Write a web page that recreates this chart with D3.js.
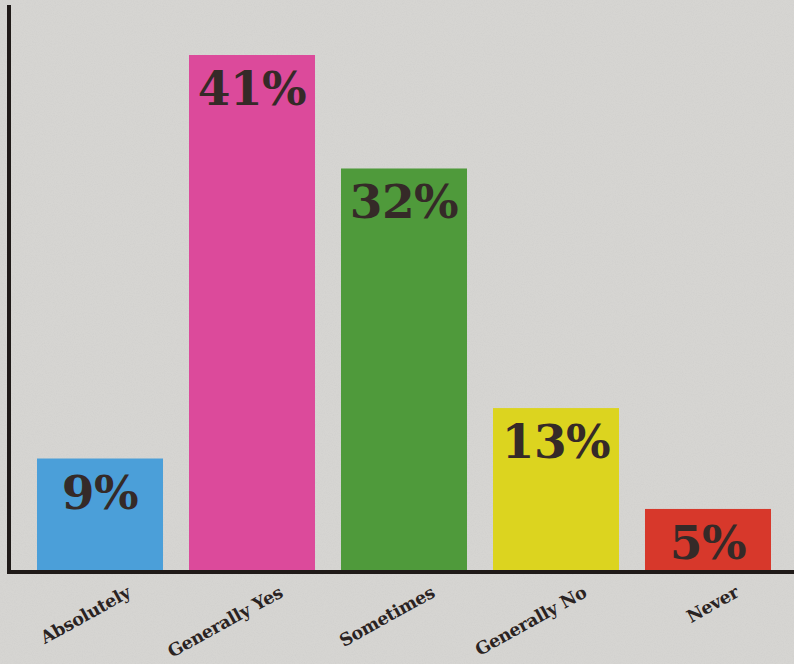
<!DOCTYPE html>
<html>
<head>
<meta charset="utf-8">
<script src="https://cdn.jsdelivr.net/npm/d3@7"></script>
<style>
  html, body { margin: 0; padding: 0; background: #d6d5d2; }
  svg { display: block; }
</style>
</head>
<body>
<svg id="chart"></svg>
<script>
const width = 794;
const height = 664;
const baseline = 572;

// values
const categories = ["Absolutely", "Generally Yes", "Sometimes", "Generally No", "Never"];
const values = [9, 41, 32, 13, 5];
const colors = ["#4b9fd9", "#dc4a9b", "#4f9a3b", "#dcd41f", "#d7382b"];

const svg = d3.select("#chart").attr("width", width).attr("height", height);

// paper-ish texture
const defs = svg.append("defs");
const f = defs.append("filter").attr("id", "paper").attr("x", 0).attr("y", 0).attr("width", "100%").attr("height", "100%");
f.append("feTurbulence").attr("type", "fractalNoise").attr("baseFrequency", 0.9).attr("numOctaves", 2).attr("seed", 3).attr("result", "n");
f.append("feColorMatrix").attr("in", "n").attr("type", "matrix")
  .attr("values", "0 0 0 0 0.5  0 0 0 0 0.5  0 0 0 0 0.5  0 0 0 -0.9 0.55");

svg.append("rect").attr("width", width).attr("height", height).attr("fill", "#d6d5d2");
svg.append("rect").attr("width", width).attr("height", height).attr("filter", "url(#paper)").attr("opacity", 0.35);

const x = d3.scaleBand()
  .domain(categories)
  .range([37, 771])
  .paddingInner(0.171)
  .paddingOuter(0);

const y = d3.scaleLinear()
  .domain([0, 41])
  .range([baseline, 55]);

const data = categories.map((c, i) => ({ cat: c, value: values[i], color: colors[i] }));

// bars
svg.append("g")
  .selectAll("rect")
  .data(data)
  .join("rect")
  .attr("x", d => x(d.cat))
  .attr("y", d => y(d.value))
  .attr("width", x.bandwidth())
  .attr("height", d => baseline - y(d.value))
  .attr("fill", d => d.color);

// value labels inside bars
svg.append("g")
  .selectAll("text")
  .data(data)
  .join("text")
  .attr("x", d => x(d.cat) + x.bandwidth() / 2)
  .attr("y", d => Math.min(y(d.value) + 50, baseline - 8))
  .attr("text-anchor", "middle")
  .attr("font-family", "'DejaVu Serif', serif")
  .attr("font-weight", "bold")
  .attr("font-size", "47px")
  .attr("letter-spacing", "-0.5px")
  .attr("fill", "#352a28")
  .text(d => d.value + "%");

// axes as plain heavy rules
svg.append("line")
  .attr("x1", 9).attr("x2", 9)
  .attr("y1", 5).attr("y2", baseline + 2)
  .attr("stroke", "#1f1a18").attr("stroke-width", 4);

svg.append("line")
  .attr("x1", 7).attr("x2", width)
  .attr("y1", baseline).attr("y2", baseline)
  .attr("stroke", "#1f1a18").attr("stroke-width", 4);

// slanted category labels
svg.append("g")
  .selectAll("text")
  .data(data)
  .join("text")
  .attr("transform", d => `translate(${x(d.cat) + x.bandwidth() / 2 + 32},${baseline + 24}) rotate(-29)`)
  .attr("text-anchor", "end")
  .attr("font-family", "'DejaVu Serif', serif")
  .attr("font-weight", "bold")
  .attr("font-size", "17.5px")
  .attr("letter-spacing", "-0.3px")
  .attr("fill", "#2a2322")
  .text(d => d.cat);
</script>
</body>
</html>
